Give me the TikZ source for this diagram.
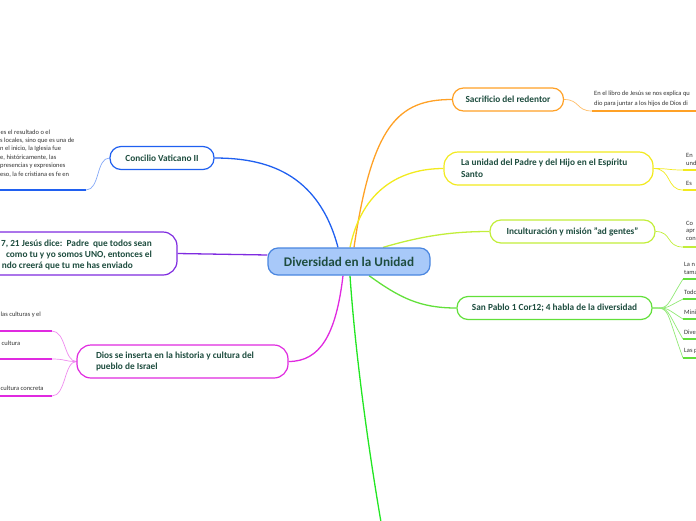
\documentclass[tikz,border=0pt]{standalone}
\usepackage{fontspec}
\setmainfont{Carlito}
\usetikzlibrary{backgrounds}
\definecolor{txtc}{HTML}{1E4D3F}
\definecolor{leafc}{HTML}{333333}
\definecolor{corange}{HTML}{FFA126}
\definecolor{cyellow}{HTML}{F2EA1E}
\definecolor{cygreen}{HTML}{C2EE3A}
\definecolor{cgreen}{HTML}{62E03A}
\definecolor{clgreen}{HTML}{22E622}
\definecolor{cblue}{HTML}{2060F0}
\definecolor{cpurple}{HTML}{7F2BE0}
\definecolor{cmagenta}{HTML}{E02AE0}
\definecolor{cfill}{HTML}{A8C9F9}
\definecolor{cborder}{HTML}{4A86E0}
\tikzset{
  branch/.style={draw, rounded corners=11pt, line width=1.2pt, fill=white,
    font=\bfseries\fontsize{9.3}{11.5}\selectfont, text=txtc, inner sep=0pt,
    minimum height=23pt},
  jntext/.style={font=\bfseries\fontsize{9.3}{11}\selectfont, text=txtc, inner sep=0pt, anchor=base east},
  leaf/.style={font=\fontsize{6.5}{8}\selectfont, text=leafc, inner sep=0pt, anchor=west},
  conn/.style={line width=1.3pt},
  subconn/.style={line width=0.7pt},
  uline/.style={line width=1.8pt},
}
\begin{document}
\begin{tikzpicture}[x=1pt,y=-1pt]
\useasboundingbox (0,0) rectangle (696,520);
\clip (0,0) rectangle (696,520);

% central node
\node[draw=cborder, fill=cfill, line width=1.2pt, rounded corners=10pt,
  minimum width=162pt, minimum height=27pt, inner sep=0pt,
  font=\bfseries\fontsize{13.2}{15}\selectfont, text=txtc] (c) at (349,261.5) {Diversidad en la Unidad};

% right branches
\node[branch, draw=corange, minimum width=111pt] (sac) at (508,99.5) {Sacrificio del redentor};
\node[branch, draw=cyellow, minimum height=33pt, rounded corners=14pt, text width=175pt, inner xsep=17pt, align=flush left] (uni) at (548.5,168.5) {\mbox{La unidad del Padre y del Hijo en el Espíritu}\\Santo};
\node[branch, draw=cygreen, minimum width=165pt] (inc) at (572.5,231.5) {Inculturación y misión "ad gentes"};
\node[branch, draw=cgreen, minimum width=195pt] (sp) at (554.5,308) {San Pablo 1 Cor12; 4 habla de la diversidad};

% left branches
\node[branch, draw=cblue, minimum width=104pt] (con) at (162,158) {Concilio Vaticano II};
\node[draw=cpurple, line width=1.2pt, rounded corners=14pt, fill=white,
  minimum width=237pt, minimum height=43pt, inner sep=0pt] (jn) at (58.5,253.5) {};
\node[jntext] (jn1) at (152,246.5) {7, 21 Jesús dice:\ \ Padre\ \ que todos sean};
\node[jntext] (jn2) at (152,257.5) {como tu y yo somos UNO, entonces el};
\node[jntext] (jn3) at (133,268.5) {ndo creerá que tu me has enviado};
\node[branch, draw=cmagenta, minimum height=33pt, rounded corners=14pt, text width=173pt, inner xsep=19pt, align=flush left] (dios) at (182.5,361.5) {\mbox{Dios se inserta en la historia y cultura del}\\pueblo de Israel};

% off-page target of the long green connector
\coordinate (down) at (385,545);

% leaf texts: Sacrificio
\node[leaf] (s1a) at (594,94) {En el libro de Jesús se nos explica qu};
\node[leaf] (s1b) at (594,104) {dio para juntar a los hijos de Dios di};
\coordinate (s1s) at (592,111); \coordinate (s1e) at (700,111);
% Unidad
\node[leaf] (u1a) at (686,155) {En};
\node[leaf] (u1b) at (686,163) {und};
\coordinate (u1s) at (683,170); \coordinate (u1e) at (700,170);
\node[leaf] (u2a) at (686,183) {Es};
\coordinate (u2s) at (683,190); \coordinate (u2e) at (700,190);
% Inculturacion
\node[leaf] (i1a) at (686,223) {Co};
\node[leaf] (i1b) at (686,231) {apr};
\node[leaf] (i1c) at (686,239) {con};
\coordinate (i1s) at (683,247); \coordinate (i1e) at (700,247);
% San Pablo
\node[leaf] (p1a) at (684,264) {La n};
\node[leaf] (p1b) at (684,272) {tama};
\coordinate (p1s) at (683,279); \coordinate (p1e) at (700,279);
\node[leaf] (p2) at (684,292) {Todo};
\coordinate (p2s) at (683,299); \coordinate (p2e) at (700,299);
\node[leaf] (p3) at (684,312) {Mini};
\coordinate (p3s) at (683,319); \coordinate (p3e) at (700,319);
\node[leaf] (p4) at (684,332) {Dive};
\coordinate (p4s) at (683,339); \coordinate (p4e) at (700,339);
\node[leaf] (p5) at (684,351) {Las p};
\coordinate (p5s) at (683,358); \coordinate (p5e) at (700,358);
% Concilio
\node[leaf] (k1) at (0.5,132) {es el resultado o el};
\node[leaf] (k2) at (0,140.5) {s locales, sino que es una de};
\node[leaf] (k3) at (0,149) {n el inicio, la Iglesia fue};
\node[leaf] (k4) at (0,157.5) {e, históricamente, las};
\node[leaf] (k5) at (0,166) {presencias y expresiones};
\node[leaf] (k6) at (0,174.5) {eso, la fe cristiana es fe en};
\coordinate (k0s) at (86,190); \coordinate (k0e) at (-5,190);
% Dios
\node[leaf] (d1) at (0.5,315) {las culturas y el};
\coordinate (d1s) at (52,331); \coordinate (d1e) at (-5,331);
\node[leaf] (d2) at (1.5,343) {cultura};
\coordinate (d2s) at (52,359); \coordinate (d2e) at (-5,359);
\node[leaf] (d3) at (0.5,388) {cultura concreta};
\coordinate (d3s) at (52,396); \coordinate (d3e) at (-5,396);

\begin{scope}[on background layer]
% main connectors
\draw[conn, corange] ([xshift=5pt]c.north) .. controls (372,125) and (398,99.5) .. (sac.west);
\draw[conn, cyellow] ([xshift=1pt]c.north) .. controls (362,190) and (400,168.5) .. (uni.west);
\draw[conn, cygreen] ([xshift=34pt]c.north) .. controls (425,235) and (455,231.5) .. (inc.west);
\draw[conn, cgreen] ([xshift=20pt]c.south) .. controls (400,298) and (420,308) .. (sp.west);
\draw[conn, cblue] ([xshift=-11pt]c.north) .. controls (318,172) and (265,158) .. (con.east);
\draw[conn, cpurple] ([yshift=6.5pt]c.west) -- (jn.east);
\draw[conn, cmagenta] ([xshift=-6pt]c.south) .. controls (336,335) and (320,361.5) .. (dios.east);
\draw[conn, clgreen] ([xshift=1pt]c.south) .. controls (355,350) and (368,450) .. (down);

% sub connectors and underlines
\draw[subconn, corange!70] (sac.east) .. controls (580,99.5) and (576,111) .. (s1s);
\draw[uline, corange] (s1s) -- (s1e);
\draw[subconn, cyellow] (uni.east) .. controls (670,168.5) and (667,170) .. (u1s);
\draw[subconn, cyellow] (uni.east) .. controls (672,168.5) and (666,190) .. (u2s);
\draw[uline, cyellow] (u1s) -- (u1e);
\draw[uline, cyellow] (u2s) -- (u2e);
\draw[subconn, cygreen] (inc.east) .. controls (672,231.5) and (666,247) .. (i1s);
\draw[uline, cygreen] (i1s) -- (i1e);
\foreach \k in {1,...,5}{
  \draw[subconn, cgreen!70] (sp.east) .. controls (670,308) and (665,308) .. (p\k s);
  \draw[uline, cgreen] (p\k s) -- (p\k e);
}
\draw[subconn, cblue!55] (con.west) .. controls (96,158) and (100,190) .. (k0s);
\draw[uline, cblue] (k0s) -- (k0e);
\draw[subconn, cmagenta!55] (dios.west) .. controls (64,361.5) and (66,331) .. (d1s);
\draw[subconn, cmagenta!55] (dios.west) .. controls (64,361.5) and (66,359) .. (d2s);
\draw[subconn, cmagenta!55] (dios.west) .. controls (64,361.5) and (66,396) .. (d3s);
\draw[uline, cmagenta] (d1s) -- (d1e);
\draw[uline, cmagenta] (d2s) -- (d2e);
\draw[uline, cmagenta] (d3s) -- (d3e);
\end{scope}
\end{tikzpicture}
\end{document}
